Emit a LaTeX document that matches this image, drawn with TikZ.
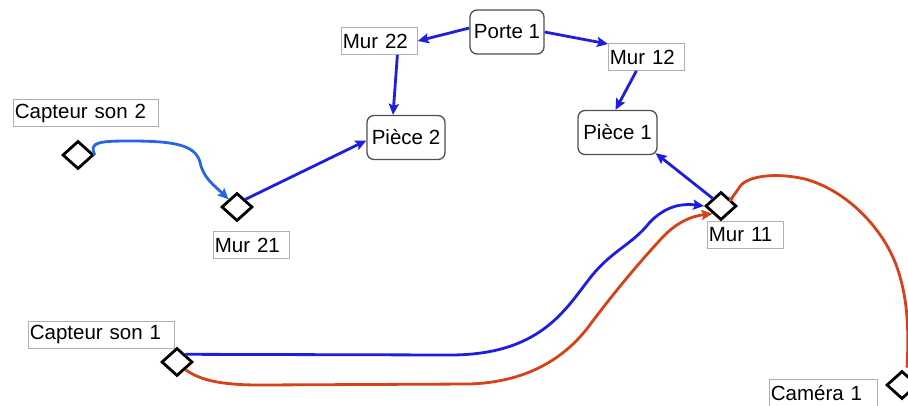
\documentclass[tikz,border=0pt]{standalone}
\usepackage{fontspec}
\setmainfont{Liberation Sans}
\usetikzlibrary{shapes.geometric,arrows.meta}
\definecolor{dblue}{RGB}{30,30,225}
\definecolor{lblue}{RGB}{40,100,232}
\definecolor{cred}{RGB}{215,65,25}
\definecolor{lgray}{RGB}{175,175,175}
\definecolor{bgray}{RGB}{80,80,80}
\begin{document}
\begin{tikzpicture}[x=1pt,y=-1pt,
  txt/.style={font=\fontsize{20.5}{22}\selectfont},
  lbl/.style={txt, draw=lgray, line width=0.8pt, fill=white, inner xsep=1.5pt, inner ysep=0pt,
              minimum height=27pt, anchor=west, text width=#1, align=left},
  rbox/.style={txt, draw=bgray, line width=1.3pt, rounded corners=7pt, fill=white,
               inner sep=0pt, minimum width=#1, minimum height=44pt},
  dia/.style={diamond, draw=black, line width=2.8pt, fill=white, inner sep=0pt,
              minimum width=31pt, minimum height=28pt},
  tip/.style={-{Stealth[length=11pt,width=10pt,inset=2pt]}},
  barrow/.style={tip, draw=dblue, line width=2.8pt},
  larrow/.style={tip, draw=lblue, line width=2.8pt},
  rarrow/.style={tip, draw=cred, line width=2.8pt}]
\useasboundingbox (0,0) rectangle (908,405);

% boxes
\node[rbox=74pt] (po) at (507,32) {Porte 1};
\node[rbox=79pt] (p1) at (617.5,132.5) {Pièce 1};
\node[rbox=78pt] (p2) at (406,137.5) {Pièce 2};

% labels
\node[lbl=73pt] (m22) at (341,41) {Mur 22};
\node[lbl=73pt] (m12) at (608,57) {Mur 12};
\node[lbl=142pt] (lcs2) at (13,113) {Capteur son 2};
\node[lbl=73pt] (lm21) at (213,245) {Mur 21};
\node[lbl=143pt] (lcs1) at (28,334.5) {Capteur son 1};
\node[lbl=73pt] (lm11) at (707,235) {Mur 11};
\node[lbl=105pt] (lcam) at (769,393) {Caméra 1};

% diamonds
\node[dia] (cs2) at (78,155) {};
\node[dia] (m21) at (237,207) {};
\node[dia] (cs1) at (177,362) {};
\node[dia] (m11) at (721,206) {};
\node[dia] (cam) at (902,385) {};
\coordinate (m11in) at (729,202);

% straight arrows
\draw[barrow] ([yshift=4pt]po.west) -- (m22.east);
\draw[barrow] (po.east) -- ([yshift=13pt]m12.west);
\draw[barrow] ([xshift=18pt]m22.south) -- ([xshift=-13pt]p2.north);
\draw[barrow] ([xshift=-10pt]m12.south) -- ([xshift=-2pt]p1.north);
\draw[barrow] (m21.north east) -- ([yshift=-3pt]p2.west);
\draw[barrow] (m11.north west) -- ([xshift=-2pt,yshift=2pt]p1.south east);

% curved connectors
\draw[larrow] (cs2.east) .. controls (88,142) and (100,141) .. (130,141)
  .. controls (175,141) and (195,145) .. (200,162)
  .. controls (203,178) and (215,186) .. (m21.north west);

\draw[barrow] (cs1.north east) -- (450,355)
  .. controls (540,355) and (565,310) .. (590,278)
  .. controls (612,250) and (632,245) .. (650,222)
  .. controls (665,207) and (680,203) .. (m11.west);

\draw[rarrow] (cs1.south east) .. controls (200,380) and (220,385) .. (260,385)
  -- (470,384)
  .. controls (525,382) and (565,360) .. (592,322)
  .. controls (620,285) and (640,262) .. (660,240)
  .. controls (676,222) and (692,216) .. (m11.south west);

\draw[draw=cred, line width=2.8pt, -{Stealth[length=5pt,width=6pt]}]
  ([xshift=5pt,yshift=2pt]cam.north) .. controls (909,330) and (908,295) .. (895,262)
  .. controls (880,225) and (845,190) .. (805,179)
  .. controls (775,172) and (745,176) .. (739,188)
  -- (m11in);
\end{tikzpicture}
\end{document}
